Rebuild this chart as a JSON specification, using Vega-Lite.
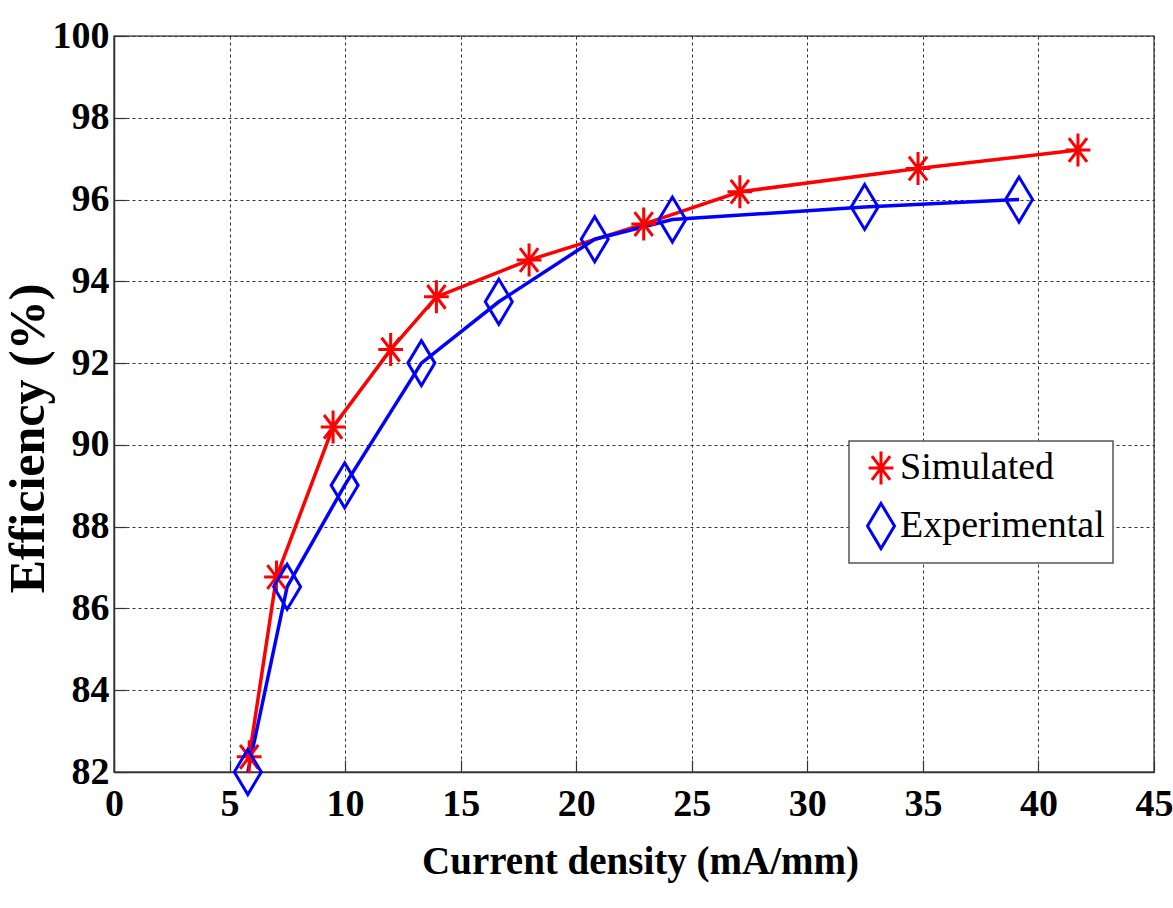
{
  "$schema": "https://vega.github.io/schema/vega-lite/v6.json",
  "width": 1040,
  "height": 736,
  "autosize": {"type": "none"},
  "padding": {"left": 114, "top": 36, "right": 19, "bottom": 136},
  "background": "white",
  "data": {
    "values": [
      {"series": "Simulated", "current": 5.85, "efficiency": 82.37},
      {"series": "Simulated", "current": 7.03, "efficiency": 86.77},
      {"series": "Simulated", "current": 9.48, "efficiency": 90.44},
      {"series": "Simulated", "current": 11.97, "efficiency": 92.33},
      {"series": "Simulated", "current": 13.95, "efficiency": 93.62},
      {"series": "Simulated", "current": 17.96, "efficiency": 94.52},
      {"series": "Simulated", "current": 22.92, "efficiency": 95.40},
      {"series": "Simulated", "current": 27.08, "efficiency": 96.19},
      {"series": "Simulated", "current": 34.79, "efficiency": 96.76},
      {"series": "Simulated", "current": 41.71, "efficiency": 97.21},
      {"series": "Experimental", "current": 5.79, "efficiency": 82.0},
      {"series": "Experimental", "current": 7.49, "efficiency": 86.53},
      {"series": "Experimental", "current": 9.98, "efficiency": 89.01},
      {"series": "Experimental", "current": 13.3, "efficiency": 92.0},
      {"series": "Experimental", "current": 16.65, "efficiency": 93.5},
      {"series": "Experimental", "current": 20.8, "efficiency": 95.03},
      {"series": "Experimental", "current": 24.16, "efficiency": 95.51},
      {"series": "Experimental", "current": 32.48, "efficiency": 95.82},
      {"series": "Experimental", "current": 39.16, "efficiency": 96.0}
    ]
  },
  "config": {
    "view": {"stroke": "#555", "strokeWidth": 1.5},
    "axis": {
      "grid": true,
      "gridDash": [3, 3],
      "gridColor": "#333",
      "gridWidth": 1,
      "gridOpacity": 1,
      "domainColor": "#333",
      "domainWidth": 1.5,
      "tickSize": -12,
      "tickColor": "#333",
      "tickWidth": 1.2,
      "labelFont": "Liberation Serif",
      "labelFontWeight": "bold",
      "labelFontSize": 38,
      "labelColor": "black",
      "titleFont": "Liberation Serif",
      "titleFontWeight": "bold",
      "titleColor": "black"
    },
    "legend": {
      "orient": "none",
      "legendX": 735,
      "legendY": 405,
      "direction": "vertical",
      "labelFont": "Liberation Serif",
      "labelFontSize": 38,
      "labelFontWeight": "normal",
      "labelColor": "black",
      "labelBaseline": "middle",
      "labelLimit": 0,
      "strokeColor": "#555",
      "strokeWidth": 1.5,
      "fillColor": "white",
      "padding": 8,
      "rowPadding": 6,
      "labelOffset": -5,
      "symbolStrokeWidth": 3
    }
  },
  "encoding": {
    "x": {
      "field": "current",
      "type": "quantitative",
      "scale": {"domain": [0, 45], "nice": false, "zero": false},
      "axis": {
        "values": [0, 5, 10, 15, 20, 25, 30, 35, 40, 45],
        "title": "Current density (mA/mm)",
        "titleFontSize": 39,
        "titleX": 526,
        "titleY": 101,
        "titleBaseline": "alphabetic",
        "titleAlign": "center",
        "labelBaseline": "alphabetic",
        "labelPadding": 55,
        "labelFlush": false,
        "labelOverlap": false
      }
    },
    "y": {
      "field": "efficiency",
      "type": "quantitative",
      "scale": {"domain": [82, 100], "nice": false, "zero": false},
      "axis": {
        "values": [82, 84, 86, 88, 90, 92, 94, 96, 98, 100],
        "title": "Efficiency (%)",
        "titleFontSize": 50,
        "titleAngle": -90,
        "titleX": -71,
        "titleY": 402,
        "titleBaseline": "alphabetic",
        "titleAlign": "center",
        "labelBaseline": "middle",
        "labelPadding": 17,
        "labelFlush": false,
        "labelOverlap": false
      }
    },
    "color": {
      "field": "series",
      "type": "nominal",
      "scale": {"domain": ["Simulated", "Experimental"], "range": ["#FF0000", "#0000FF"]},
      "legend": {
        "title": null,
        "encode": {
          "symbols": {
            "update": {
              "shape": {"signal": "datum.value === 'Experimental' ? 'M-0.6,0L0.6,0M0,-1L0.6,0L0,1L-0.6,0Z' : 'M-0.75,0L0.75,0M0,-1L0,1M-0.55,-0.72L0.55,0.72M-0.55,0.72L0.55,-0.72'"}
            }
          }
        }
      }
    }
  },
  "layer": [
    {
      "mark": {"type": "line", "strokeWidth": 3.5}
    },
    {
      "mark": {"type": "point", "filled": false, "strokeWidth": 3, "opacity": 1},
      "encoding": {
        "shape": {
          "field": "series",
          "type": "nominal",
          "scale": {
            "domain": ["Simulated", "Experimental"],
            "range": [
              "M-0.75,0L0.75,0M0,-1L0,1M-0.55,-0.72L0.55,0.72M-0.55,0.72L0.55,-0.72",
              "M0,-1L0.6,0L0,1L-0.6,0Z"
            ]
          },
          "legend": {
            "title": null,
            "encode": {
              "symbols": {
                "update": {
                  "shape": {"signal": "datum.value === 'Experimental' ? 'M-0.6,0L0.6,0M0,-1L0.6,0L0,1L-0.6,0Z' : 'M-0.75,0L0.75,0M0,-1L0,1M-0.55,-0.72L0.55,0.72M-0.55,0.72L0.55,-0.72'"}
                }
              }
            }
          }
        },
        "size": {
          "field": "series",
          "type": "nominal",
          "scale": {"domain": ["Simulated", "Experimental"], "range": [1089, 2025]},
          "legend": {
            "title": null,
            "encode": {
              "symbols": {
                "update": {
                  "shape": {"signal": "datum.value === 'Experimental' ? 'M-0.6,0L0.6,0M0,-1L0.6,0L0,1L-0.6,0Z' : 'M-0.75,0L0.75,0M0,-1L0,1M-0.55,-0.72L0.55,0.72M-0.55,0.72L0.55,-0.72'"}
                }
              }
            }
          }
        }
      }
    }
  ]
}
